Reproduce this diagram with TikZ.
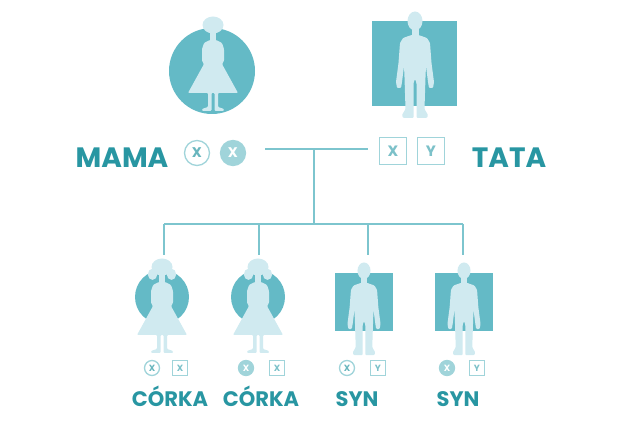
\documentclass[tikz,border=0pt]{standalone}
\usepackage{fontspec}
\setmainfont{Poppins}
\usepackage{tikz}

\definecolor{disc}{RGB}{100,186,198}
\definecolor{ink}{RGB}{40,150,162}
\definecolor{wire}{RGB}{125,197,206}
\definecolor{pale}{RGB}{208,234,240}
\definecolor{soft}{RGB}{160,212,218}

\tikzset{
  lady/.pic={
    \fill[pale] (0,-46) ellipse [x radius=10.5pt,y radius=8.5pt];
    \fill[pale] (-3,-40) rectangle (3,-29);
    \fill[pale,rounded corners=1pt] (3,-31) -- (9,-28) -- (11,-22) -- (11,-10) -- (9,-7) -- (25,22) -- (5,22) -- (5,36) -- (11,38) -- (11,40) -- (1.5,40) -- (1.5,22)
      -- (-1.5,22) -- (-1.5,40) -- (-11,40) -- (-11,38) -- (-5,36) -- (-5,22) -- (-25,22) -- (-9,-7) -- (-11,-10) -- (-11,-22) -- (-9,-28) -- (-3,-31) -- cycle;
  },
  girl/.pic={
    \pic{lady};
    \fill[pale] (-11,-45) ellipse [x radius=5.5pt,y radius=6.5pt] (11,-45) ellipse [x radius=5.5pt,y radius=6.5pt];
  },
  gent/.pic={
    \fill[pale] (0,-44) ellipse [x radius=7.5pt,y radius=9.5pt];
    \fill[pale] (-3.5,-37) rectangle (3.5,-28);
    \fill[pale,rounded corners=1pt] (3.5,-30) -- (12,-27) -- (15,-22) -- (16.5,-2) -- (19,17) -- (18,23) -- (14,23) -- (13,17) -- (11,1) -- (10.5,12) -- (9.5,44) -- (13,50) -- (12,53) -- (1.5,53) -- (1.5,18) -- (0,14)
      -- (-1.5,18) -- (-1.5,53) -- (-12,53) -- (-13,50) -- (-9.5,44) -- (-10.5,12) -- (-11,1) -- (-13,17) -- (-14,23) -- (-18,23) -- (-19,17) -- (-16.5,-2) -- (-15,-22) -- (-12,-27) -- (-3.5,-30) -- cycle;
  },
  wire/.style={draw=wire,line width=1.6pt},
  who/.style={text=ink,anchor=base,font=\bfseries\fontsize{28}{28}\selectfont},
  kid/.style={text=ink,anchor=base,font=\bfseries\fontsize{21}{21}\selectfont},
  xring/.style={circle,draw=soft,line width=1.3pt,fill=white,text=ink!70,inner sep=0pt,minimum size=#1},
  xdisc/.style={circle,draw=soft,line width=1.3pt,fill=soft,text=white,inner sep=0pt,minimum size=#1},
  xbox/.style={rectangle,draw=soft,line width=1.3pt,fill=white,text=soft!70!ink,inner sep=0pt,minimum size=#1}
}

\begin{document}
\begin{tikzpicture}[x=1pt,y=-1pt]
\useasboundingbox (0,0) rectangle (640,427);
% parents
\path (212,71) node(m)[circle,fill=disc,minimum size=86pt]{}
(414,64) node(f)[rectangle,fill=disc,minimum size=85pt]{};
\pic at (213,71) {lady};
\pic at (415,65) {gent};
\path (122,168) node(mn)[who]{MAMA}
(509,168) node(fn)[who]{TATA}
(197,153) node(m1)[xring=25pt,font=\bfseries\fontsize{14}{14}\selectfont]{X}
(233,153) node(m2)[xdisc=25pt,font=\bfseries\fontsize{14}{14}\selectfont]{X}
(393,151) node(f1)[xbox=27pt,font=\bfseries\fontsize{15}{15}\selectfont]{X}
(431,151) node(f2)[xbox=27pt,font=\bfseries\fontsize{15}{15}\selectfont]{Y};
% children
\path (162,297) node(d1)[circle,fill=disc,minimum size=54pt]{}
(258,297) node(d2)[circle,fill=disc,minimum size=54pt]{}
(364,302) node(s1)[rectangle,fill=disc,minimum size=58pt]{}
(464,302) node(s2)[rectangle,fill=disc,minimum size=58pt]{};
\pic[scale=0.86] at (162,313) {girl};
\pic[scale=0.86] at (258,313) {girl};
\pic[scale=0.87] at (364,309) {gent};
\pic[scale=0.87] at (464,309) {gent};
\path (152,368) node(d1a)[xring=15pt,font=\bfseries\fontsize{9}{9}\selectfont]{X}
(180,368) node(d1b)[xbox=15pt,font=\bfseries\fontsize{9}{9}\selectfont]{X}
(246,368) node(d2a)[xdisc=15pt,font=\bfseries\fontsize{9}{9}\selectfont]{X}
(277,368) node(d2b)[xbox=15pt,font=\bfseries\fontsize{9}{9}\selectfont]{X}
(347,368) node(s1a)[xring=15pt,font=\bfseries\fontsize{9}{9}\selectfont]{X}
(378,368) node(s1b)[xbox=15pt,font=\bfseries\fontsize{9}{9}\selectfont]{Y}
(447,368) node(s2a)[xdisc=15pt,font=\bfseries\fontsize{9}{9}\selectfont]{X}
(477,368) node(s2b)[xbox=15pt,font=\bfseries\fontsize{9}{9}\selectfont]{Y}
(170,407) node(d1n)[kid]{CÓRKA}
(261,407) node(d2n)[kid]{CÓRKA}
(357,407) node(s1n)[kid]{SYN}
(458,407) node(s2n)[kid]{SYN};
% tree
\coordinate (tl) at (265,149);
\coordinate (tr) at (368,149);
\coordinate (tm) at (314,149);
\coordinate (bm) at (314,224);
\coordinate (b1) at (164,224);
\coordinate (b2) at (259,224);
\coordinate (b3) at (368,224);
\coordinate (b4) at (463,224);
\draw[wire](tl)--(tr);
\draw[wire](tm)--(bm);
\draw[wire](b1)--(b4);
\draw[wire](b1)--++(0,31);
\draw[wire](b2)--++(0,31);
\draw[wire](b3)--++(0,31);
\draw[wire](b4)--++(0,31);
\end{tikzpicture}
\end{document}
